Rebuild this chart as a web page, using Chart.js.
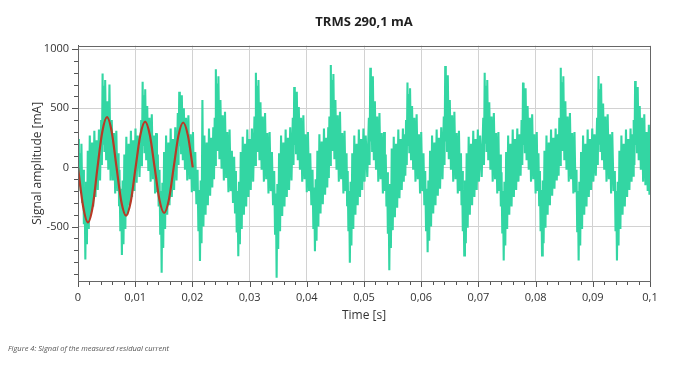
<!DOCTYPE html>
<html lang="en">
<head>
    <meta charset="UTF-8">
    <title>TRMS 290,1 mA</title>
    <script src="https://cdn.jsdelivr.net/npm/chart.js"></script>
    <style>
        body { margin: 0; background: #fff; }
        #wrap { position: relative; width: 675px; height: 370px; }
        #caption { position: absolute; left: 8px; top: 343px; font: italic 7.5px 'Open Sans', sans-serif; color: #555; }
    </style>
</head>
<body>
    <div id="wrap">
        <canvas id="chart" width="675" height="370"></canvas>
        <div id="caption">Figure 4: Signal of the measured residual current</div>
    </div>

    <script>
        // measured signal: for each sample the high and the low excursion of the noisy trace
        // time in ms, amplitude in mA (one line per half wave)
        var timeMs = [
            0, 0.3, 0.6, 0.9,
            1.16, 1.41, 1.71, 2.06, 2.46, 2.86, 3.26, 3.66, 4.05,
            4.3, 4.5, 4.75, 5.1, 5.5, 5.9, 6.3, 6.7, 7.1, 7.25,
            7.55, 7.8, 8.1, 8.45, 8.85, 9.25, 9.65, 10.05, 10.45, 11.05,
            11.3, 11.5, 11.75, 12.1, 12.5, 12.9, 13.3, 13.65, 13.95, 14.25,
            14.5, 14.75, 15.05, 15.4, 15.8, 16.2, 16.6, 17.0, 17.45,
            17.7, 17.9, 18.15, 18.5, 18.9, 19.3, 19.7, 20.1, 20.5, 20.9,
            21.2, 21.45, 21.75, 22.1, 22.5, 22.9, 23.3, 23.65, 23.9,
            24.1, 24.3, 24.55, 24.9, 25.3, 25.7, 26.1, 26.5, 26.9, 27.3, 27.6,
            27.9, 28.15, 28.45, 28.8, 29.2, 29.6, 30.0, 30.4, 30.85,
            31.1, 31.3, 31.55, 31.9, 32.3, 32.7, 33.1, 33.5, 33.9, 34.3,
            34.6, 34.85, 35.15, 35.5, 35.9, 36.3, 36.7, 37.1, 37.55,
            37.8, 38.0, 38.25, 38.6, 39.0, 39.4, 39.8, 40.2, 40.6, 41.0,
            41.3, 41.55, 41.85, 42.2, 42.6, 43.0, 43.4, 43.75, 43.95,
            44.2, 44.4, 44.65, 45.0, 45.4, 45.8, 46.2, 46.6, 46.95, 47.15,
            47.4, 47.65, 47.95, 48.3, 48.7, 49.1, 49.5, 49.9, 50.3, 50.85,
            51.1, 51.3, 51.55, 51.9, 52.3, 52.7, 53.1, 53.5, 53.8, 54.05,
            54.3, 54.55, 54.85, 55.2, 55.6, 56.0, 56.4, 56.8, 57.1, 57.35,
            57.6, 57.8, 58.05, 58.4, 58.8, 59.2, 59.6, 60.0, 60.4, 60.7,
            61.0, 61.25, 61.55, 61.9, 62.3, 62.7, 63.1, 63.5, 63.95,
            64.2, 64.4, 64.65, 65.0, 65.4, 65.8, 66.2, 66.6, 66.95, 67.15,
            67.4, 67.65, 67.95, 68.3, 68.7, 69.1, 69.5, 69.9, 70.3, 70.85,
            71.1, 71.3, 71.55, 71.9, 72.3, 72.7, 73.1, 73.5, 73.8, 74.05,
            74.3, 74.55, 74.85, 75.2, 75.6, 76.0, 76.4, 76.8, 77.2, 77.55,
            77.8, 78.0, 78.25, 78.6, 79.0, 79.4, 79.8, 80.2, 80.5, 80.75,
            81.0, 81.25, 81.55, 81.9, 82.3, 82.7, 83.1, 83.5, 83.9, 84.15,
            84.4, 84.6, 84.85, 85.2, 85.6, 86.0, 86.4, 86.8, 87.15,
            87.4, 87.65, 87.95, 88.3, 88.7, 89.1, 89.5, 89.9, 90.3, 90.75,
            91.0, 91.2, 91.45, 91.8, 92.2, 92.6, 93.0, 93.4, 93.85,
            94.1, 94.35, 94.65, 95.0, 95.4, 95.8, 96.2, 96.6, 96.95, 97.15,
            97.4, 97.6, 97.85, 98.2, 98.6, 99.0, 99.4, 99.8, 100
        ];
        var sigHigh = [
            240, 120, 200, -20,
            -180, -120, 140, 270, 210, 310, 230, 320, 400,
            795, 690, 740, 560, 700, 400, 290, 310, 120, -20,
            -180, -110, 110, 260, 200, 310, 230, 330, 270, 400,
            725, 610, 660, 520, 420, 450, 270, 290, 110, -20,
            -200, -130, 130, 270, 210, 330, 240, 340, 460,
            640, 560, 610, 500, 420, 440, 280, 300, 130, -20,
            -190, -110, 570, 270, 210, 330, 250, 340, 420,
            830, 710, 770, 570, 440, 470, 300, 320, 140, 90, -30,
            -200, -120, 130, 260, 200, 320, 240, 330, 430,
            800, 690, 740, 550, 430, 460, 290, 300, 130, -30,
            -220, -140, 120, 270, 210, 320, 250, 340, 420,
            680, 590, 640, 510, 420, 440, 280, 300, 120, -20,
            -170, -100, 140, 280, 220, 330, 250, 340, 430,
            865, 740, 790, 570, 440, 470, 290, 310, 120, -30,
            -200, -120, 120, 270, 200, 320, 240, 330, 270, 420,
            843, 720, 770, 560, 430, 460, 290, 300, 110, -40,
            -220, -140, 160, 260, 200, 320, 240, 330, 280, 400,
            717, 620, 670, 520, 420, 450, 280, 300, 120, -30,
            -180, -110, 140, 270, 210, 320, 250, 340, 430,
            857, 730, 780, 570, 440, 470, 290, 310, 120, -30,
            -190, -110, 120, 260, 200, 310, 240, 320, 270, 420,
            800, 690, 740, 550, 430, 460, 290, 300, 110, -40,
            -200, -120, 130, 270, 200, 320, 240, 330, 280, 400,
            717, 620, 670, 520, 420, 450, 280, 300, 120, -30,
            -190, -110, 140, 270, 210, 320, 250, 330, 280, 420,
            843, 720, 770, 560, 430, 460, 290, 300, -20,
            -200, -120, 130, 270, 200, 320, 240, 330, 280, 420,
            773, 660, 710, 540, 430, 450, 280, 300, -30,
            -200, -120, 140, 270, 200, 320, 240, 330, 280, 400,
            730, 630, 680, 520, 420, 450, 300, 360, 340
        ];
        var sigLow = [
            -160, -200, -300, -480,
            -778, -650, -520, -400, -330, -250, -190, -110, 20,
            200, 130, 60, -20, -110, -110, -220, -200, -320, -540,
            -740, -650, -520, -400, -320, -250, -200, -130, -80, 10,
            190, 120, 60, -30, -120, -100, -220, -210, -330, -560,
            -890, -680, -520, -400, -320, -250, -190, -110, 20,
            180, 120, 60, -20, -110, -100, -210, -200, -310, -540,
            -790, -640, -500, -400, -320, -240, -170, -100, 20,
            210, 140, 70, -10, -110, -90, -210, -200, -300, -380, -550,
            -750, -650, -520, -400, -330, -250, -190, -120, 20,
            210, 130, 60, -20, -120, -100, -220, -200, -320, -560,
            -933, -690, -540, -410, -330, -250, -190, -110, 20,
            190, 120, 60, -20, -120, -100, -210, -200, -320, -520,
            -708, -620, -500, -390, -310, -230, -170, -90, 20,
            210, 140, 70, -20, -120, -100, -220, -200, -320, -540,
            -806, -660, -520, -400, -320, -250, -190, -120, -80, 20,
            220, 140, 60, -20, -120, -100, -220, -200, -330, -560,
            -870, -680, -530, -420, -340, -260, -190, -120, -70, 20,
            190, 120, 60, -20, -120, -100, -220, -200, -320, -530,
            -717, -620, -500, -390, -320, -240, -180, -100, 20,
            220, 140, 70, -20, -120, -100, -220, -200, -320, -540,
            -745, -640, -510, -400, -320, -250, -190, -120, -80, 20,
            210, 130, 60, -20, -120, -100, -220, -200, -330, -550,
            -787, -660, -520, -400, -330, -250, -190, -120, -70, 20,
            190, 120, 60, -20, -120, -100, -220, -200, -320, -540,
            -745, -640, -510, -400, -320, -240, -180, -110, -70, 20,
            220, 140, 60, -20, -120, -100, -220, -210, -540,
            -787, -660, -520, -400, -330, -250, -190, -120, -70, 20,
            200, 130, 60, -20, -120, -100, -220, -200, -540,
            -787, -660, -520, -400, -330, -250, -190, -120, -70, 20,
            190, 120, 60, -20, -120, -150, -200, -230, -225
        ];

        // fitted fundamental (red line)
        var fitTimeMs = [0, 0.9, 1.74, 2.57, 3.41, 4.24, 5.07, 5.9, 6.74, 7.57, 8.4, 9.23, 10.07, 10.9, 11.73, 12.56, 13.4, 14.23, 15.06, 15.89, 16.73, 17.56, 18.39, 19.22, 20.06];
        var fitValues = [0, -330, -465, -330, 0, 300, 425, 300, 0, -288, -408, -288, 0, 274, 388, 274, 0, -272, -385, -272, 0, 269, 380, 269, 0];

        var xMajorTicks = [0, 0.01, 0.02, 0.03, 0.04, 0.05, 0.06, 0.07, 0.08, 0.09, 0.1];
        var xMinorStep = 0.002;
        var yMajorTicks = [-500, 0, 500, 1000];
        var yMinorStep = 100;

        // trace goes high -> low -> high ..., the low sits halfway to the next sample
        function signalTrace() {
            var pts = [];
            for (var i = 0; i < timeMs.length; i++) {
                var next = i + 1 < timeMs.length ? timeMs[i + 1] : timeMs[i] + 0.2;
                pts.push({ x: timeMs[i] / 1000, y: sigHigh[i] });
                pts.push({ x: (timeMs[i] + next) / 2000, y: sigLow[i] });
            }
            return pts;
        }

        function toPoints(times, values) {
            return times.map(function(t, i) { return { x: t / 1000, y: values[i] }; });
        }

        function buildTicks(min, max, step, majors) {
            var out = [];
            var n = Math.round((max - min) / step);
            for (var i = 0; i <= n; i++) {
                var v = +(min + i * step).toFixed(6);
                out.push({ value: v, major: majors.some(function(m) { return Math.abs(m - v) < 1e-9; }) });
            }
            return out;
        }

        function fmt(v) {
            return String(+v.toFixed(3)).replace('.', ',');
        }

        // short minor ticks, longer major ticks, plus the frame around the plot
        var axisDecor = {
            id: 'axisDecor',
            afterDraw: function(chart) {
                var ctx = chart.ctx;
                var area = chart.chartArea;
                ctx.save();
                ctx.strokeStyle = '#555';
                ctx.lineWidth = 1;
                ctx.beginPath();
                chart.scales.x.ticks.forEach(function(t) {
                    var px = Math.round(chart.scales.x.getPixelForValue(t.value)) + 0.5;
                    ctx.moveTo(px, area.bottom);
                    ctx.lineTo(px, area.bottom + (t.major ? 6 : 4));
                });
                chart.scales.y.ticks.forEach(function(t) {
                    var py = Math.round(chart.scales.y.getPixelForValue(t.value)) + 0.5;
                    ctx.moveTo(area.left, py);
                    ctx.lineTo(area.left - (t.major ? 6 : 4), py);
                });
                ctx.stroke();
                ctx.strokeStyle = '#666';
                ctx.strokeRect(Math.round(area.left) + 0.5, Math.round(area.top) + 0.5,
                    Math.round(area.right - area.left), Math.round(area.bottom - area.top));
                ctx.restore();
            }
        };

        Chart.defaults.font.family = "'Open Sans', sans-serif";
        Chart.defaults.color = '#333';

        var gridColor = function(c) { return c.tick && c.tick.major ? '#d2d2d2' : 'rgba(0,0,0,0)'; };

        new Chart(document.getElementById('chart'), {
            type: 'line',
            data: {
                datasets: [
                    {
                        label: 'Fit',
                        data: toPoints(fitTimeMs, fitValues),
                        borderColor: '#b83a26',
                        borderWidth: 2.2,
                        pointRadius: 0,
                        cubicInterpolationMode: 'monotone',
                        fill: false,
                        order: 0
                    },
                    {
                        label: 'Signal',
                        data: signalTrace(),
                        borderColor: '#33d6a3',
                        borderWidth: 2.1,
                        pointRadius: 0,
                        fill: false,
                        order: 1
                    }
                ]
            },
            options: {
                responsive: false,
                animation: false,
                devicePixelRatio: 1,
                layout: { padding: { left: 0, right: 25, top: 0, bottom: 43 } },
                plugins: {
                    legend: { display: false },
                    tooltip: { enabled: false },
                    title: {
                        display: true,
                        fullSize: false,
                        text: 'TRMS 290,1 mA',
                        color: '#222',
                        font: { size: 13, weight: 'bold' },
                        padding: { top: 14, bottom: 16 }
                    }
                },
                scales: {
                    x: {
                        type: 'linear',
                        min: 0,
                        max: 0.1,
                        afterBuildTicks: function(s) { s.ticks = buildTicks(0, 0.1, xMinorStep, xMajorTicks); },
                        afterFit: function(s) { s.height = 46; },
                        ticks: {
                            autoSkip: false,
                            maxRotation: 0,
                            padding: 4,
                            font: { size: 11 },
                            color: '#333',
                            callback: function(v, i, ticks) { return ticks[i].major ? fmt(v) : ''; }
                        },
                        grid: { color: gridColor, tickColor: 'rgba(0,0,0,0)', tickLength: 6 },
                        border: { color: '#555' },
                        title: { display: true, text: 'Time [s]', font: { size: 12 }, color: '#333', padding: { top: 4, bottom: 4 } }
                    },
                    y: {
                        min: -960,
                        max: 1030,
                        afterBuildTicks: function(s) { s.ticks = buildTicks(-900, 1000, yMinorStep, yMajorTicks); },
                        afterFit: function(s) { s.width = 78; },
                        ticks: {
                            autoSkip: false,
                            padding: 3,
                            font: { size: 11 },
                            color: '#333',
                            callback: function(v, i, ticks) { return ticks[i].major ? String(v) : ''; }
                        },
                        grid: { color: gridColor, tickColor: 'rgba(0,0,0,0)', tickLength: 6 },
                        border: { color: '#555' },
                        title: { display: true, text: 'Signal amplitude [mA]', font: { size: 12 }, color: '#333', padding: { top: 30, bottom: 4 } }
                    }
                }
            },
            plugins: [axisDecor]
        });
    </script>
</body>
</html>
